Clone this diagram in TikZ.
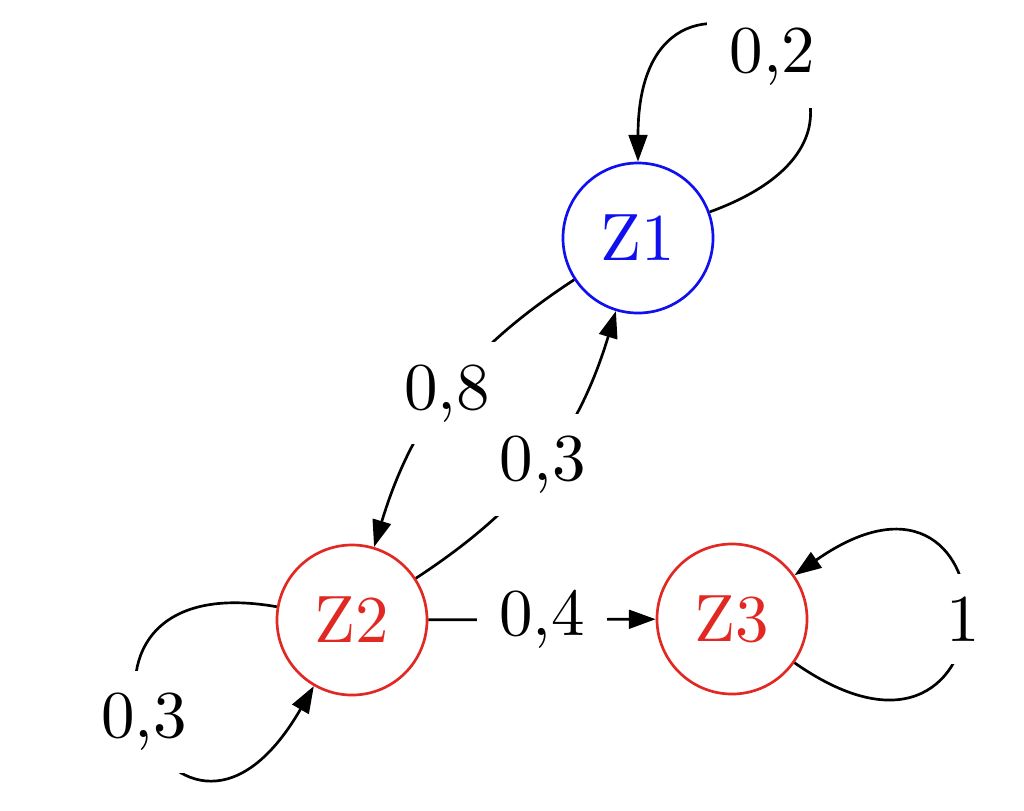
\documentclass[tikz,border=0pt]{standalone}
\usetikzlibrary{arrows.meta}
\definecolor{zred}{RGB}{225,40,35}
\definecolor{zblue}{RGB}{15,15,240}
\begin{document}
\begin{tikzpicture}[x=0.1493pt,y=0.1493pt,
  state/.style={circle,draw,minimum size=22.4pt,inner sep=0pt,font=\normalsize},
  lab/.style={fill=white,inner sep=3.33pt},
  arr/.style={-{Triangle[length=4pt,width=2.8pt]}},
]
\useasboundingbox (0,0) rectangle (1024,810);
\node[state,draw=zblue,text=zblue] (Z1) at (638,572) {Z1};
\node[state,draw=zred,text=zred] (Z2) at (352,190) {Z2};
\node[state,draw=zred,text=zred] (Z3) at (732,191) {Z3};

\draw[arr] (Z1.20) .. controls +(20:280) and +(90:275) .. node[lab,pos=.5,yshift=-1.3pt] (l12) {0,2} (Z1.90);
\draw[arr] (Z1) to[bend right=20] node[lab] (l8) {0,8} (Z2);
\draw[arr] (Z2) to[bend right=20] node[lab] (l3a) {0,3} (Z1);
\draw[arr] (Z2) -- node[lab] (l4) {0,4} (Z3);
\draw[arr] (Z2.170) .. controls +(170:265) and +(240:285) .. node[lab,pos=.5] (l3b) {0,3} (Z2.240);
\draw[arr] (Z3.-35) .. controls +(-35:275) and +(35:275) .. node[lab] (l1) {1} (Z3.35);
\end{tikzpicture}
\end{document}
